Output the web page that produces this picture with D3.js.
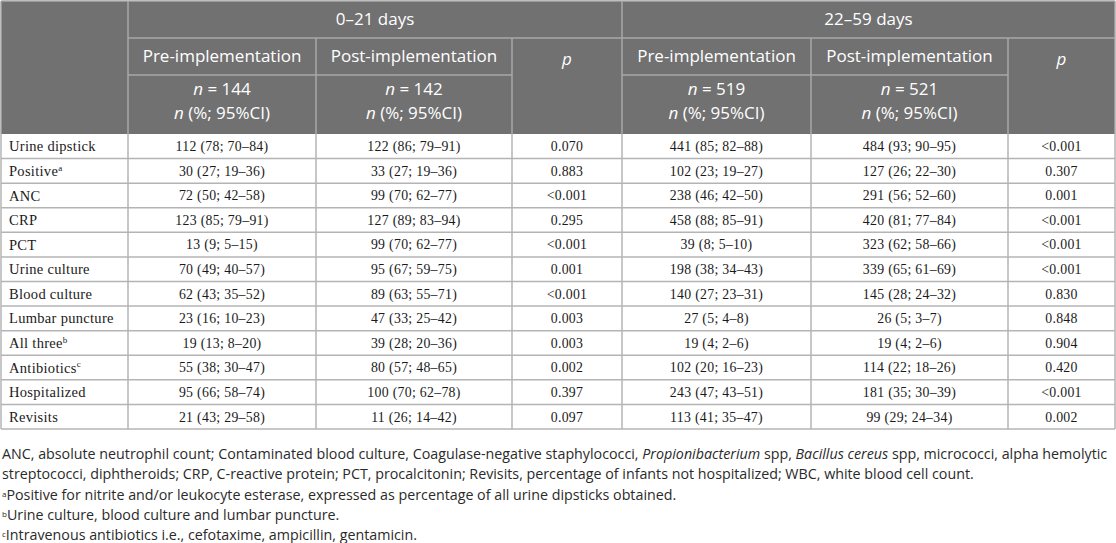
<!DOCTYPE html>
<html>
<head>
<meta charset="utf-8">
<script src="https://cdn.jsdelivr.net/npm/d3@7"></script>
<style>
  body { margin: 0; background: #fff; }
  svg { display: block; }
</style>
</head>
<body>
<div id="table"></div>
<script>
// table content
const rowLabels = ['Urine dipstick', 'Positive', 'ANC', 'CRP', 'PCT', 'Urine culture', 'Blood culture',
  'Lumbar puncture', 'All three', 'Antibiotics', 'Hospitalized', 'Revisits']
const rowNotes = ['', 'a', '', '', '', '', '', '', 'b', 'c', '', '']

const pre021 = ['112 (78; 70–84)', '30 (27; 19–36)', '72 (50; 42–58)', '123 (85; 79–91)', '13 (9; 5–15)',
  '70 (49; 40–57)', '62 (43; 35–52)', '23 (16; 10–23)', '19 (13; 8–20)', '55 (38; 30–47)',
  '95 (66; 58–74)', '21 (43; 29–58)']
const post021 = ['122 (86; 79–91)', '33 (27; 19–36)', '99 (70; 62–77)', '127 (89; 83–94)', '99 (70; 62–77)',
  '95 (67; 59–75)', '89 (63; 55–71)', '47 (33; 25–42)', '39 (28; 20–36)', '80 (57; 48–65)',
  '100 (70; 62–78)', '11 (26; 14–42)']
const p021 = ['0.070', '0.883', '<0.001', '0.295', '<0.001', '0.001', '<0.001', '0.003', '0.003', '0.002',
  '0.397', '0.097']
const pre2259 = ['441 (85; 82–88)', '102 (23; 19–27)', '238 (46; 42–50)', '458 (88; 85–91)', '39 (8; 5–10)',
  '198 (38; 34–43)', '140 (27; 23–31)', '27 (5; 4–8)', '19 (4; 2–6)', '102 (20; 16–23)',
  '243 (47; 43–51)', '113 (41; 35–47)']
const post2259 = ['484 (93; 90–95)', '127 (26; 22–30)', '291 (56; 52–60)', '420 (81; 77–84)', '323 (62; 58–66)',
  '339 (65; 61–69)', '145 (28; 24–32)', '26 (5; 3–7)', '19 (4; 2–6)', '114 (22; 18–26)',
  '181 (35; 30–39)', '99 (29; 24–34)']
const p2259 = ['<0.001', '0.307', '0.001', '<0.001', '<0.001', '<0.001', '0.830', '0.848', '0.904', '0.420',
  '<0.001', '0.002']

const ageGroups = ['0–21 days', '22–59 days']
const periods = ['Pre-implementation', 'Post-implementation']
const groupSizes = [144, 142, 519, 521]

const footnotes = [
  [['ANC, absolute neutrophil count; Contaminated blood culture, Coagulase-negative staphylococci, '],
    ['Propionibacterium', 'i'], [' spp, '], ['Bacillus cereus', 'i'], [' spp, micrococci, alpha hemolytic']],
  [['streptococci, diphtheroids; CRP, C-reactive protein; PCT, procalcitonin; Revisits, percentage of infants not hospitalized; WBC, white blood cell count.']],
  [['a', 's'], ['Positive for nitrite and/or leukocyte esterase, expressed as percentage of all urine dipsticks obtained.']],
  [['b', 's'], ['Urine culture, blood culture and lumbar puncture.']],
  [['c', 's'], ['Intravenous antibiotics i.e., cefotaxime, ampicillin, gentamicin.']]
]

// layout
const width = 1116
const height = 543
const colEdges = [1, 128, 316, 512, 622, 811, 1008, 1115]
const headRows = [1, 38, 75, 134]
const tableBottom = 429
const headBg = '#717171'
const headLine = '#a9a9a9'
const bodyLine = '#b4b4b4'
const sans = "'Open Sans', 'Noto Sans', sans-serif"
const serif = "'Liberation Serif', 'DejaVu Serif', serif"

const columns = [pre021, post021, p021, pre2259, post2259, p2259]

const svg = d3.select('#table')
  .append('svg')
  .attr('width', width)
  .attr('height', height)

const y = d3.scaleBand()
  .domain(rowLabels)
  .range([headRows[3], tableBottom])

const mid = (a, b) => (a + b) / 2

// header block
svg.append('rect')
  .attr('x', colEdges[0])
  .attr('y', headRows[0])
  .attr('width', colEdges[7] - colEdges[0])
  .attr('height', headRows[3] - headRows[0])
  .attr('fill', headBg)

const headLines = [
  // outer frame
  [colEdges[0], headRows[0], colEdges[7], headRows[0]],
  [colEdges[0], headRows[0], colEdges[0], headRows[3]],
  [colEdges[7], headRows[0], colEdges[7], headRows[3]],
  // spanning lines
  [colEdges[1], headRows[0], colEdges[1], headRows[3]],
  [colEdges[4], headRows[0], colEdges[4], headRows[3]],
  [colEdges[1], headRows[1], colEdges[7], headRows[1]],
  [colEdges[1], headRows[2], colEdges[3], headRows[2]],
  [colEdges[4], headRows[2], colEdges[6], headRows[2]],
  [colEdges[2], headRows[1], colEdges[2], headRows[3]],
  [colEdges[3], headRows[1], colEdges[3], headRows[3]],
  [colEdges[5], headRows[1], colEdges[5], headRows[3]],
  [colEdges[6], headRows[1], colEdges[6], headRows[3]]
]

svg.append('g')
  .selectAll('line')
  .data(headLines)
  .join('line')
  .attr('x1', d => d[0])
  .attr('y1', d => d[1])
  .attr('x2', d => d[2])
  .attr('y2', d => d[3])
  .attr('stroke', headLine)
  .attr('stroke-width', 1.5)

const headText = svg.append('g')
  .attr('font-family', sans)
  .attr('font-size', 17)
  .attr('fill', '#fff')
  .attr('text-anchor', 'middle')

ageGroups.forEach((g, i) => {
  headText.append('text')
    .attr('x', mid(colEdges[1 + i * 3], colEdges[4 + i * 3]))
    .attr('y', mid(headRows[0], headRows[1]))
    .attr('dy', '0.35em')
    .text(g)

  periods.forEach((p, j) => {
    const c = 1 + i * 3 + j
    headText.append('text')
      .attr('x', mid(colEdges[c], colEdges[c + 1]))
      .attr('y', mid(headRows[1], headRows[2]))
      .attr('dy', '0.35em')
      .text(p)

    const nLine = headText.append('text')
      .attr('x', mid(colEdges[c], colEdges[c + 1]))
      .attr('y', headRows[2] + 14)
      .attr('dy', '0.35em')
    nLine.append('tspan').attr('font-style', 'italic').text('n')
    nLine.append('tspan').text(' = ' + groupSizes[i * 2 + j])

    const ciLine = headText.append('text')
      .attr('x', mid(colEdges[c], colEdges[c + 1]))
      .attr('y', headRows[2] + 38)
      .attr('dy', '0.35em')
    ciLine.append('tspan').attr('font-style', 'italic').text('n')
    ciLine.append('tspan').text(' (%; 95%CI)')
  })

  headText.append('text')
    .attr('x', mid(colEdges[3 + i * 3], colEdges[4 + i * 3]))
    .attr('y', mid(headRows[1], headRows[2]) + 3)
    .attr('dy', '0.35em')
    .attr('font-style', 'italic')
    .text('p')
})

// body grid
const grid = svg.append('g')
  .attr('stroke', bodyLine)
  .attr('stroke-width', 1.5)

grid.selectAll('line.h')
  .data(rowLabels)
  .join('line')
  .attr('class', 'h')
  .attr('x1', colEdges[0])
  .attr('x2', colEdges[7])
  .attr('y1', d => y(d) + y.bandwidth())
  .attr('y2', d => y(d) + y.bandwidth())

grid.selectAll('line.v')
  .data(colEdges)
  .join('line')
  .attr('class', 'v')
  .attr('x1', d => d)
  .attr('x2', d => d)
  .attr('y1', headRows[3])
  .attr('y2', tableBottom)

// row labels
const labels = svg.append('g')
  .attr('font-family', serif)
  .attr('font-size', 14.5)
  .attr('fill', '#1a1a1a')
  .selectAll('text')
  .data(rowLabels)
  .join('text')
  .attr('x', 9)
  .attr('y', d => y(d) + y.bandwidth() / 2)
  .attr('dy', '0.35em')
  .attr('letter-spacing', 0.3)

labels.append('tspan').text(d => d)
labels.append('tspan')
  .attr('font-size', 9)
  .attr('dy', '-0.6em')
  .text((d, i) => rowNotes[i])

// cell values
const body = svg.append('g')
  .attr('font-family', serif)
  .attr('font-size', 13.8)
  .attr('fill', '#1a1a1a')
  .attr('text-anchor', 'middle')

columns.forEach((col, c) => {
  body.append('g')
    .selectAll('text')
    .data(col)
    .join('text')
    .attr('x', mid(colEdges[c + 1], colEdges[c + 2]))
    .attr('y', (d, i) => y(rowLabels[i]) + y.bandwidth() / 2)
    .attr('dy', '0.35em')
    .attr('letter-spacing', 0.3)
    .text(d => d)
})

// footnotes
const noteY = d3.scaleLinear()
  .domain([0, footnotes.length - 1])
  .range([459, 540])

const notes = svg.append('g')
  .attr('font-family', sans)
  .attr('font-size', 13)
  .attr('fill', '#2a2a2a')

const noteLines = notes.selectAll('text')
  .data(footnotes)
  .join('text')
  .attr('x', 2)
  .attr('y', (d, i) => noteY(i))

noteLines.each(function (parts) {
  const t = d3.select(this)
  let raised = false
  parts.forEach(([str, kind]) => {
    const span = t.append('tspan').text(str)
    if (kind === 'i') span.attr('font-style', 'italic')
    if (kind === 's') {
      span.attr('font-size', 8).attr('dy', -3)
      raised = true
    } else if (raised) {
      span.attr('dy', 3)
      raised = false
    }
  })
})

// fit the footnote size so the first line spans the table width
const firstLen = noteLines.node().getComputedTextLength()
const noteSize = 13 * (1106 / firstLen)
notes.attr('font-size', noteSize)
</script>
</body>
</html>
